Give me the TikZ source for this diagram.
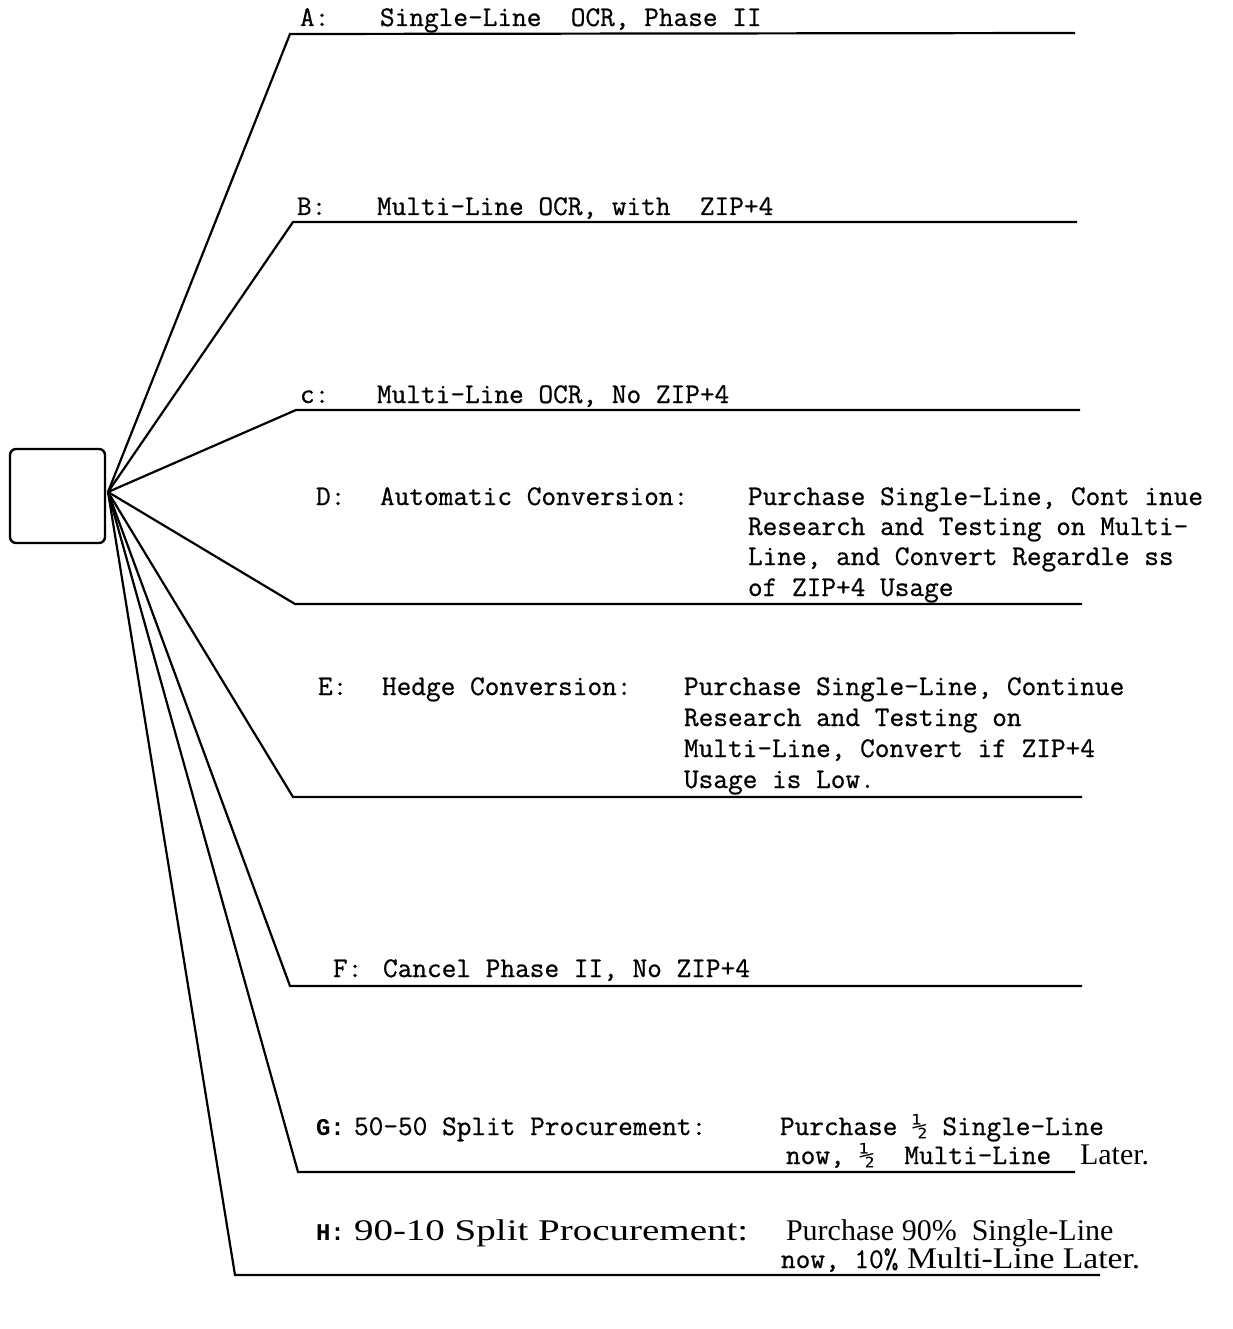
\documentclass[tikz,border=0pt]{standalone}
\usepackage{fontspec}
\setmonofont{Latin Modern Mono}[FakeBold=0.7]
\newfontfamily\typefont{Liberation Mono}
\newfontfamily\printfont{Liberation Serif}
\newfontfamily\fracfont{DejaVu Sans Mono}
\begin{document}
\begin{tikzpicture}[x=1pt,y=-1pt,line width=2.2pt,every node/.style={inner sep=0pt, outer sep=0pt, anchor=base west, font=\ttfamily\fontsize{28.5}{32}\selectfont},
  serif/.style={font=\printfont\fontsize{30}{34}\selectfont}]
\useasboundingbox (0,0) rectangle (1232,1329);
\node[draw,anchor=center,rounded corners=6pt,line width=2.4pt,minimum width=95,minimum height=94] (start) at (57.5,496) {};
\coordinate (root) at (108,492);
\coordinate (cA) at (290,34);
\coordinate (eA) at (1075,33);
\coordinate (cB) at (293,222);
\coordinate (eB) at (1077,222);
\coordinate (cC) at (296,410);
\coordinate (eC) at (1080,410);
\coordinate (cD) at (295,604);
\coordinate (eD) at (1082,604);
\coordinate (cE) at (293,797);
\coordinate (eE) at (1082,797);
\coordinate (cF) at (290,986);
\coordinate (eF) at (1082,986);
\coordinate (cG) at (298,1172);
\coordinate (eG) at (1075,1172);
\coordinate (cH) at (235,1275);
\coordinate (eH) at (1100,1275);
\draw (root) -- (cA) -- (eA);
\draw (root) -- (cB) -- (eB);
\draw (root) -- (cC) -- (eC);
\draw (root) -- (cD) -- (eD);
\draw (root) -- (cE) -- (eE);
\draw (root) -- (cF) -- (eF);
\draw (root) -- (cG) -- (eG);
\draw (root) -- (cH) -- (eH);
\node (lA) at (300,26) {A:};
\node (tA) at (380,26) {Single-Line\ \ OCR, Phase II};
\node (lB) at (297,215) {B:};
\node (tB) at (377,215) {Multi-Line OCR, with\ \ ZIP+4};
\node (lC) at (300,403) {c:};
\node (tC) at (377,403) {Multi-Line OCR, No ZIP+4};
\node (lD) at (316,505) {D:};
\node (tD) at (380,505) {Automatic Conversion:};
\node (dA) at (748,505) {Purchase Single-Line, Cont inue};
\node (dB) at (748,535) {Research and Testing on Multi-};
\node (dC) at (748,565) {Line, and Convert Regardle ss};
\node (dD) at (748,596) {of ZIP+4 Usage};
\node (lE) at (318,695) {E:};
\node (tE) at (382,695) {Hedge Conversion:};
\node (eA1) at (684,695) {Purchase Single-Line, Continue};
\node (eB1) at (684,726) {Research and Testing on};
\node (eC1) at (684,757) {Multi-Line,\ Convert if ZIP+4};
\node (eD1) at (684,788) {Usage is Low.};
\node (lF) at (333,977) {F:};
\node (tF) at (383,977) {Cancel Phase II, No ZIP+4};
\node[font=\typefont\bfseries\fontsize{24}{30}\selectfont] (lG) at (316,1135) {G:};
\node (tG) at (354,1135) {50-50 Split Procurement:};
\node (gA) at (780,1135) {Purchase {\fracfont\fontsize{26}{30}\selectfont ½} Single-Line};
\node (gB) at (786,1164) {now, {\fracfont\fontsize{26}{30}\selectfont ½}\ \ Multi-Line};
\node[serif] (gC) at (1080,1164) {Later.};
\node[font=\typefont\bfseries\fontsize{24}{30}\selectfont] (lH) at (316,1240) {H:};
\node[serif,xscale=1.3] (tH) at (354,1240) {90-10 Split Procurement:};
\node[serif] (hA) at (786,1240) {Purchase 90\%\ \ Single-Line};
\node (hB) at (781,1268) {now, 10\%};
\node[serif,xscale=1.12] (hC) at (907,1268) {Multi-Line Later.};
\end{tikzpicture}
\end{document}
